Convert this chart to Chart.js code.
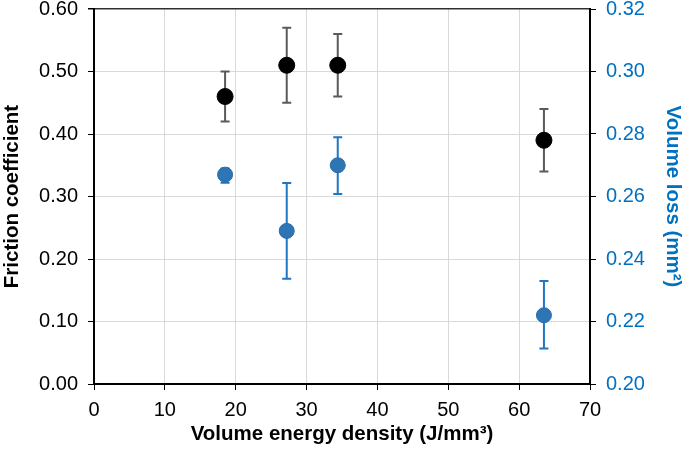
<!DOCTYPE html>
<html>
<head>
<meta charset="utf-8">
<script src="https://cdn.jsdelivr.net/npm/chart.js@4.4.1/dist/chart.umd.min.js"></script>
<style>
html,body{margin:0;padding:0;background:#fff;}
canvas{display:block;}
</style>
</head>
<body>
<canvas id="c" width="685" height="459"></canvas>
<script>
// Data
const energy = [18.5, 27.2, 34.4, 63.5];
const friction = [0.46, 0.51, 0.51, 0.39];
const frictionLow = [0.42, 0.45, 0.46, 0.34];
const frictionHigh = [0.50, 0.57, 0.56, 0.44];
const volumeLoss = [0.267, 0.249, 0.270, 0.222];
const volumeLow = [0.2644, 0.2337, 0.2608, 0.2114];
const volumeHigh = [0.2690, 0.2643, 0.2790, 0.2330];
const xTitle = 'Volume energy density (J/mm³)';
const yLeftTitle = 'Friction coefficient';
const yRightTitle = 'Volume loss (mm²)';

const FONT = "'Liberation Sans', Arial, sans-serif";
const BLUE_TEXT = '#0070C0';

const errorBars = {
  id: 'errorBars',
  beforeDatasetsDraw(chart) {
    const ctx = chart.ctx;
    chart.data.datasets.forEach((ds) => {
      const ys = chart.scales[ds.yAxisID];
      const xs = chart.scales.x;
      ctx.save();
      ctx.strokeStyle = ds.errColor;
      ctx.lineWidth = 2;
      ds.data.forEach((p, i) => {
        const x = xs.getPixelForValue(p.x);
        const y1 = ys.getPixelForValue(ds.errLow[i]);
        const y2 = ys.getPixelForValue(ds.errHigh[i]);
        const w = 4.5;
        ctx.beginPath();
        ctx.moveTo(x, y1); ctx.lineTo(x, y2);
        ctx.moveTo(x - w, y1); ctx.lineTo(x + w, y1);
        ctx.moveTo(x - w, y2); ctx.lineTo(x + w, y2);
        ctx.stroke();
      });
      ctx.restore();
    });
  }
};

function fixVertical(width) {
  return function (s) { s.width = width; s.paddingTop = 9; s.paddingBottom = 9; };
}

new Chart(document.getElementById('c'), {
  type: 'scatter',
  data: {
    datasets: [
      {
        label: 'Friction coefficient',
        data: energy.map((x, i) => ({x: x, y: friction[i]})),
        yAxisID: 'y',
        errLow: frictionLow, errHigh: frictionHigh, errColor: '#5a5a5a',
        pointRadius: 8, pointBackgroundColor: '#000', pointBorderColor: '#000', pointBorderWidth: 1
      },
      {
        label: 'Volume loss',
        data: energy.map((x, i) => ({x: x, y: volumeLoss[i]})),
        yAxisID: 'y1',
        errLow: volumeLow, errHigh: volumeHigh, errColor: '#1F76C2',
        pointRadius: 7.5, pointBackgroundColor: '#2E75B6', pointBorderColor: '#2A6BA8', pointBorderWidth: 1
      }
    ]
  },
  options: {
    responsive: false,
    animation: false,
    devicePixelRatio: 1,
    layout: {padding: {top: 0, left: 0, right: 0, bottom: 0}},
    plugins: {legend: {display: false}, tooltip: {enabled: false}},
    scales: {
      x: {
        type: 'linear', position: 'bottom', min: 0, max: 70,
        ticks: {stepSize: 10, color: '#000', font: {family: FONT, size: 20}, padding: 8},
        grid: {color: '#d9d9d9', tickColor: '#000', tickLength: 6, lineWidth: 1},
        border: {display: true, color: '#000', width: 2},
        title: {display: true, text: xTitle, color: '#000', font: {family: FONT, size: 20.5, weight: 'bold'}, padding: {top: 0, bottom: 12}},
        afterFit(s) { s.height = 75; }
      },
      y: {
        type: 'linear', position: 'left', min: 0, max: 0.6,
        ticks: {stepSize: 0.1, color: '#000', font: {family: FONT, size: 20}, padding: 10, callback: v => v.toFixed(2)},
        grid: {color: c => (Math.abs(c.tick.value - 0.6) < 1e-9 ? '#303030' : '#d9d9d9'), tickColor: '#000', tickLength: 6, lineWidth: c => (Math.abs(c.tick.value - 0.6) < 1e-9 ? 1.5 : 1)},
        border: {display: true, color: '#000', width: 2},
        title: {display: true, text: yLeftTitle, color: '#000', font: {family: FONT, size: 20.5, weight: 'bold'}, padding: {top: 0, bottom: 0}},
        afterFit: fixVertical(94)
      },
      y1: {
        type: 'linear', position: 'right', min: 0.2, max: 0.32,
        ticks: {stepSize: 0.02, color: BLUE_TEXT, font: {family: FONT, size: 20}, padding: 10, callback: v => v.toFixed(2)},
        grid: {drawOnChartArea: false, tickColor: '#000', tickLength: 6},
        border: {display: true, color: '#000', width: 2},
        title: {display: true, text: yRightTitle, color: BLUE_TEXT, font: {family: FONT, size: 20.5, weight: 'bold'}, padding: {top: 0, bottom: 0}},
        afterFit: fixVertical(95)
      }
    }
  },
  plugins: [errorBars]
});
</script>
</body>
</html>
